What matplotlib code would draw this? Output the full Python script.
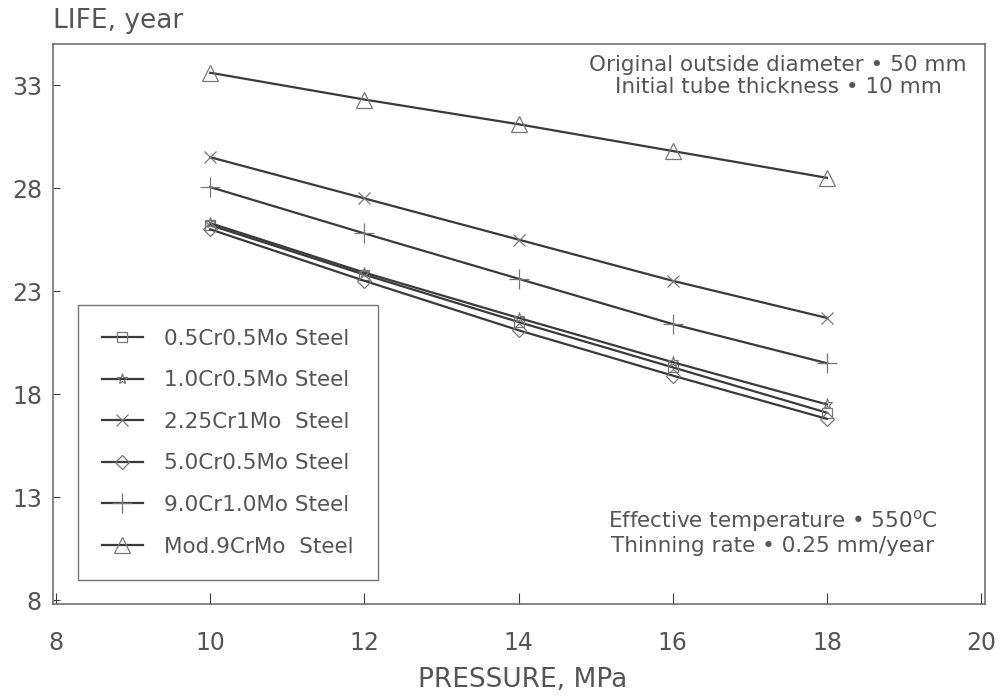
import matplotlib
matplotlib.use("Agg")
import matplotlib.pyplot as plt

plt.rcParams['font.family'] = ['DejaVu Sans']

# pressure (MPa) and remaining life (years) for each steel grade
pressure = [10, 12, 14, 16, 18]
life_05cr = [26.2, 23.8, 21.5, 19.3, 17.1]
life_10cr = [26.3, 23.9, 21.7, 19.55, 17.5]
life_225cr = [29.5, 27.5, 25.5, 23.5, 21.7]
life_50cr = [26.0, 23.5, 21.1, 18.9, 16.8]
life_90cr = [28.05, 25.8, 23.6, 21.4, 19.5]
life_mod9 = [33.6, 32.3, 31.1, 29.8, 28.5]

labels = ["0.5Cr0.5Mo Steel", "1.0Cr0.5Mo Steel", "2.25Cr1Mo  Steel",
          "5.0Cr0.5Mo Steel", "9.0Cr1.0Mo Steel", "Mod.9CrMo  Steel"]
x_ticks = [8, 10, 12, 14, 16, 18, 20]
y_ticks = [8, 13, 18, 23, 28, 33]

ink = "#3a3a3a"
txt = "#555555"

fig = plt.figure(figsize=(10.01, 6.97), dpi=100)
ax = fig.add_axes([0.053, 0.133, 0.931, 0.804])

series = [life_05cr, life_10cr, life_225cr, life_50cr, life_90cr, life_mod9]
markers = ["s", "*", "x", "D", "+", "^"]
sizes = [7, 8, 9, 7, 14, 11]
for vals, lab, m, s in zip(series, labels, markers, sizes):
    ax.plot(pressure, vals, color=ink, lw=1.6, marker=m, markersize=s,
            markerfacecolor="none", markeredgecolor="#777777",
            markeredgewidth=0.9, label=lab)

ax.set_xlim(7.96, 20.05)
ax.set_ylim(7.8, 35.0)
ax.set_xticks(x_ticks)
ax.set_yticks(y_ticks)
ax.set_xticklabels([str(v) for v in x_ticks])
ax.set_yticklabels([str(v) for v in y_ticks])
ax.tick_params(axis="x", direction="in", length=8, width=0.8, color=ink,
               labelsize=17, labelcolor=txt, pad=19)
ax.tick_params(axis="y", direction="in", length=5, width=0.8, color=ink,
               labelsize=17, labelcolor=txt, pad=8)
for sp in ax.spines.values():
    sp.set_color("#666666")
    sp.set_linewidth(1.1)

fig.text(0.053, 0.97, "LIFE, year", fontsize=19, color=txt, va="center", ha="left")
fig.text(0.522, 0.025, "PRESSURE, MPa", fontsize=19, color=txt, va="center", ha="center")

leg = ax.legend(loc="lower left", bbox_to_anchor=(0.027, 0.043), fontsize=15.5,
                frameon=True, fancybox=False, edgecolor="#555555",
                borderpad=1.1, labelspacing=1.0, handlelength=1.9,
                handletextpad=1.0, borderaxespad=0)
leg.get_frame().set_linewidth(1.0)
for t in leg.get_texts():
    t.set_color(txt)

ax.text(0.778, 0.943, "Original outside diameter \u2022 50 mm\nInitial tube thickness \u2022 10 mm",
        transform=ax.transAxes, ha="center", va="center", multialignment="center",
        fontsize=15.5, color=txt, linespacing=1.1)
ax.text(0.772, 0.129, "Effective temperature \u2022 550$^{\\mathrm{o}}$C\nThinning rate \u2022 0.25 mm/year",
        transform=ax.transAxes, ha="center", va="center", multialignment="center",
        fontsize=15.5, color=txt, linespacing=1.1)

fig.savefig("out.png", dpi=100, facecolor="white")
